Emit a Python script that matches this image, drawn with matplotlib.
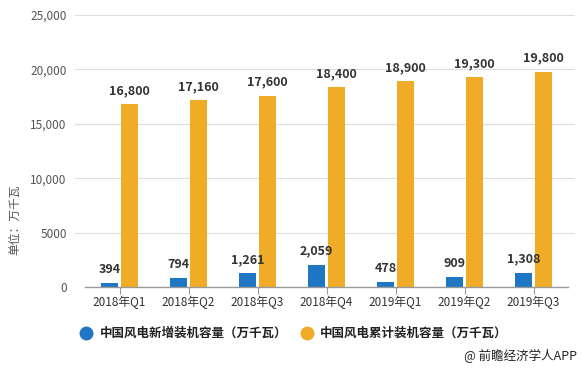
import numpy as np
import matplotlib.pyplot as plt

plt.rcParams['font.family'] = ['Noto Sans CJK SC', 'DejaVu Sans']

quarters = ['2018年Q1', '2018年Q2', '2018年Q3', '2018年Q4', '2019年Q1', '2019年Q2', '2019年Q3']
new_cap = [394, 794, 1261, 2059, 478, 909, 1308]
total_cap = [16800, 17160, 17600, 18400, 18900, 19300, 19800]
series_names = ['中国风电新增装机容量（万千瓦）', '中国风电累计装机容量（万千瓦）']

blue = '#1f77c4'
orange = '#f0ab27'

fig = plt.figure(figsize=(5.85, 3.7), dpi=100)
ax = fig.add_axes([75/585, 83/370, 500/585, 272/370])

x = np.arange(len(quarters))
w = 0.235
off = 0.145
ax.bar(x - off, new_cap, w, color=blue, zorder=3)
ax.bar(x + off, total_cap, w, color=orange, zorder=3)

# value labels
for xi, v in zip(x, new_cap):
    ax.annotate(f'{v:,}', (xi - off, v), xytext=(0, 5), textcoords='offset points',
                ha='center', va='bottom', fontsize=9, fontweight='bold', color='#333333')
for xi, v in zip(x, total_cap):
    ax.annotate(f'{v:,}', (xi + off, v), xytext=(0, 5), textcoords='offset points',
                ha='center', va='bottom', fontsize=9, fontweight='bold', color='#333333')

ax.set_ylim(0, 25000)
ax.set_xlim(-0.5 - 10/69, 6.5 + 7/69)
yt = [0, 5000, 10000, 15000, 20000, 25000]
ax.set_yticks(yt)
ax.set_yticklabels(['0', '5000', '10,000', '15,000', '20,000', '25,000'])
ax.set_xticks(x)
ax.set_xticklabels(quarters)
ax.tick_params(axis='y', length=0, pad=6, labelsize=8.5, labelcolor='#555555')
ax.tick_params(axis='x', length=5, width=0.8, color='#999999', pad=1, labelsize=8.5, labelcolor='#333333')
ax.grid(axis='y', color='#dddddd', linewidth=0.8, zorder=0)
for s in ax.spines.values():
    s.set_visible(False)
ax.plot([-0.5, 6.5], [0, 0], color='#999999', linewidth=1, zorder=4, clip_on=False)

fig.text(15/585, 150/370, '单位：万千瓦', rotation=90, ha='center', va='center',
         fontsize=8.5, color='#555555')

# legend
ly = 1 - 333/370
fig.add_artist(plt.Line2D([86/585], [ly], marker='o', markersize=9,
                          color=blue, linestyle='none'))
fig.text(100/585, ly, series_names[0], ha='left', va='center',
         fontsize=9, color='#222222', fontweight='bold')
fig.add_artist(plt.Line2D([307/585], [ly], marker='o', markersize=9,
                          color=orange, linestyle='none'))
fig.text(320/585, ly, series_names[1], ha='left', va='center',
         fontsize=9, color='#222222', fontweight='bold')

fig.text(577/585, 1 - 356/370, '@ 前瞻经济学人APP', ha='right', va='center',
         fontsize=9, color='#222222')

fig.savefig('out.png', dpi=100)
